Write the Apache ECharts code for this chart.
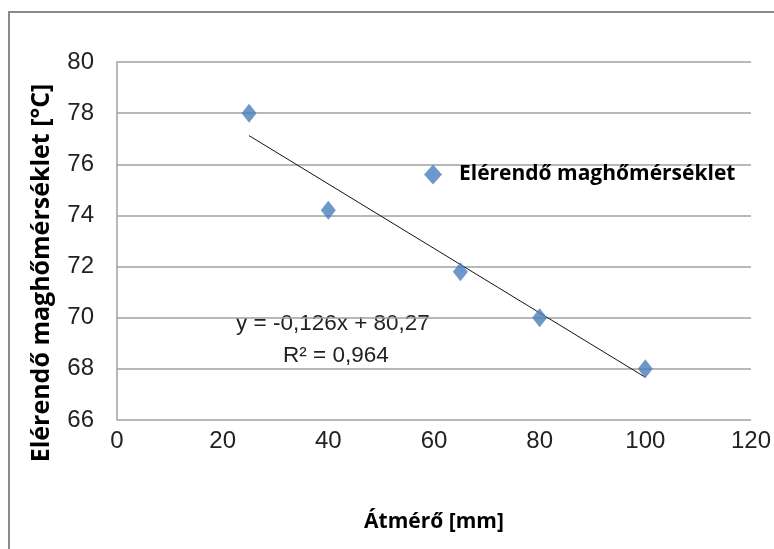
<!DOCTYPE html>
<html>
<head>
<meta charset="utf-8">
<script src="https://cdn.jsdelivr.net/npm/echarts@6/dist/echarts.min.js"></script>
<style>
  html, body { margin: 0; padding: 0; background: #fff; }
  #chart { width: 774px; height: 549px; }
</style>
</head>
<body>
<div id="chart"></div>
<script>
// mért pontok
const diameters = [25, 40, 65, 80, 100]
const temps = [78, 74.2, 71.8, 70, 68]
// trendvonal végpontjai
const trendX = [25, 100]
const trendY = [77.12, 67.67]
const seriesName = 'Elérendő maghőmérséklet'
const yTitle = 'Elérendő maghőmérséklet [°C]'
const eqText = 'y = -0,126x + 80,27'
const r2Text = 'R² = 0,964'

const font = '"Liberation Sans", sans-serif'
const chart = echarts.init(document.getElementById('chart'))

chart.setOption({
  animation: false,
  grid: { left: 117, right: 21, top: 62, bottom: 129 },
  legend: {
    left: 424, top: 164, padding: 0,
    itemWidth: 18, itemHeight: 20,
    data: [{ name: seriesName, icon: 'diamond' }],
    textStyle: {
      fontFamily: 'Open Sans', fontWeight: 'bold', fontSize: 21, color: '#000',
      padding: [0, 0, 0, 12]
    }
  },
  xAxis: {
    type: 'value', min: 0, max: 120, interval: 20,
    name: 'Átmérő [mm]', nameLocation: 'middle', nameGap: 92,
    nameTextStyle: { fontFamily: 'Open Sans', fontWeight: 'bold', fontSize: 21, color: '#000' },
    axisLine: { show: false },
    axisTick: { show: false },
    splitLine: { show: false },
    axisLabel: { fontFamily: font, fontSize: 24, color: '#222', margin: 9 }
  },
  yAxis: {
    type: 'value', min: 66, max: 80, interval: 2,
    axisLine: { show: true, lineStyle: { color: '#a0a0a0', width: 1.5 } },
    axisTick: { show: false },
    splitLine: { lineStyle: { color: '#a0a0a0', width: 1.5 } },
    axisLabel: { fontFamily: font, fontSize: 24, color: '#222', margin: 23 }
  },
  series: [
    {
      name: seriesName,
      type: 'scatter',
      symbol: 'diamond',
      symbolSize: [15, 19],
      itemStyle: { color: '#4a7ebb' },
      data: diameters.map((x, i) => [x, temps[i]]),
      z: 3
    },
    {
      name: 'trend',
      type: 'line',
      symbol: 'none',
      lineStyle: { color: '#111', width: 1 },
      data: trendX.map((x, i) => [x, trendY[i]]),
      z: 2
    }
  ],
  graphic: [
    {
      type: 'rect',
      shape: { x: 9, y: 12, width: 800, height: 600 },
      style: { fill: 'none', stroke: '#8a8a8a', lineWidth: 2 },
      silent: true
    },
    {
      type: 'text', x: 42, y: 273, rotation: Math.PI / 2,
      style: {
        text: yTitle, font: 'bold 25px "Open Sans"', fill: '#000',
        align: 'center', verticalAlign: 'middle'
      }
    },
    {
      type: 'text', left: 236, top: 312,
      style: { text: eqText, font: '22.5px ' + font, fill: '#222' }
    },
    {
      type: 'text', left: 283, top: 344,
      style: { text: r2Text, font: '22.5px ' + font, fill: '#222' }
    }
  ]
})
</script>
</body>
</html>
